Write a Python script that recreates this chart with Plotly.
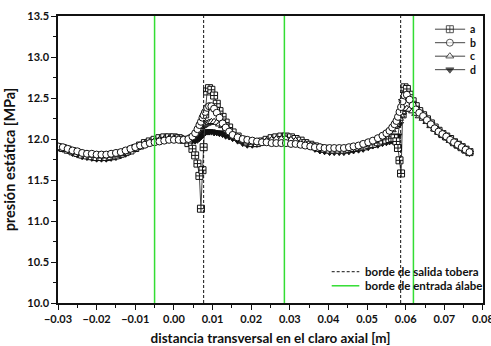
import plotly.graph_objects as go

# transverse position across the axial gap [m]
x_pos = [
    -0.030, -0.02875, -0.0275, -0.02625, -0.025, -0.02375, -0.0225, -0.02125, -0.020, -0.01875,
    -0.0175, -0.01625, -0.015, -0.01375, -0.0125, -0.01125, -0.010, -0.00875, -0.0075, -0.00625,
    -0.005, -0.00375, -0.0025, -0.00125, 0.0, 0.00125, 0.0025, 0.00375,
    0.0048, 0.0055, 0.0061, 0.0066, 0.0070, 0.0074, 0.0077, 0.0081, 0.0086, 0.0091,
    0.0097, 0.0104, 0.0111, 0.0118, 0.0126, 0.0134, 0.0143,
    0.0152, 0.0165, 0.0178, 0.0190, 0.0203, 0.0215, 0.0228, 0.0240, 0.0253, 0.0265,
    0.0278, 0.0290, 0.0303, 0.0315, 0.0328, 0.0340, 0.0353, 0.0365, 0.0378, 0.0390,
    0.0403, 0.0415, 0.0428, 0.0440, 0.0453, 0.0465, 0.0478, 0.0490, 0.0503, 0.0515,
    0.0528, 0.0540,
    0.0550, 0.0558, 0.0565, 0.0571, 0.0576, 0.0580, 0.0584, 0.0588, 0.0592, 0.0597,
    0.0603, 0.0610, 0.0618, 0.0626, 0.0635,
    0.0645, 0.0655, 0.0665, 0.0675, 0.0685, 0.0695, 0.0705, 0.0715, 0.0725, 0.0735,
    0.0745, 0.0755, 0.0765,
]

# static pressure [MPa] for the four cases
p_a = [
    11.90, 11.89, 11.87, 11.85, 11.83, 11.81, 11.80, 11.79, 11.78, 11.78,
    11.78, 11.79, 11.80, 11.82, 11.84, 11.86, 11.89, 11.92, 11.95, 11.97,
    11.99, 12.01, 12.02, 12.02, 12.02, 12.01, 11.99, 11.95,
    11.88, 11.80, 11.70, 11.55, 11.15, 11.62, 11.90, 12.30, 12.58, 12.62,
    12.60, 12.53, 12.43, 12.34, 12.27, 12.20, 12.14,
    12.08, 12.03, 11.99, 11.96, 11.95, 11.95, 11.97, 11.99, 12.01, 12.02,
    12.03, 12.03, 12.02, 12.00, 11.98, 11.95, 11.93, 11.91, 11.89, 11.88,
    11.87, 11.87, 11.87, 11.87, 11.88, 11.89, 11.90, 11.91, 11.93, 11.94,
    11.96, 11.98,
    11.99, 12.00, 12.01, 12.01, 11.97, 11.89, 11.74, 11.58, 12.30, 12.63,
    12.61, 12.54, 12.46, 12.40, 12.34,
    12.29, 12.24, 12.19, 12.14, 12.10, 12.06, 12.03, 12.00, 11.96, 11.93,
    11.90, 11.87, 11.84,
]
p_b = [
    11.91, 11.90, 11.88, 11.86, 11.85, 11.83, 11.82, 11.82, 11.81, 11.81,
    11.81, 11.82, 11.83, 11.84, 11.86, 11.88, 11.90, 11.92, 11.93, 11.95,
    11.96, 11.97, 11.98, 11.99, 11.99, 11.99, 11.99, 12.00,
    12.03, 12.07, 12.12, 12.17, 12.21, 12.26, 12.29, 12.33, 12.38, 12.40,
    12.40, 12.37, 12.32, 12.26, 12.19, 12.14, 12.09,
    12.05, 12.02, 12.00, 11.99, 11.98, 11.97, 11.96, 11.96, 11.95, 11.95,
    11.95, 11.95, 11.94, 11.94, 11.93, 11.92, 11.91, 11.90, 11.90, 11.89,
    11.89, 11.89, 11.89, 11.89, 11.90, 11.91, 11.92, 11.94, 11.96, 11.98,
    12.01, 12.04,
    12.07, 12.10, 12.14, 12.18, 12.22, 12.27, 12.33, 12.39, 12.46, 12.53,
    12.54, 12.48, 12.41, 12.36, 12.32,
    12.28, 12.23, 12.18, 12.13, 12.09, 12.06, 12.03, 11.99, 11.96, 11.93,
    11.90, 11.87, 11.84,
]
p_c = [
    11.90, 11.89, 11.87, 11.85, 11.84, 11.82, 11.81, 11.80, 11.80, 11.79,
    11.80, 11.80, 11.81, 11.83, 11.85, 11.87, 11.89, 11.92, 11.94, 11.96,
    11.98, 11.99, 12.00, 12.01, 12.01, 12.01, 12.00, 12.01,
    12.03, 12.07, 12.10, 12.13, 12.15, 12.16, 12.17, 12.18, 12.19, 12.20,
    12.21, 12.21, 12.20, 12.18, 12.16, 12.12, 12.08,
    12.05, 12.01, 11.98, 11.96, 11.96, 11.96, 11.97, 11.98, 11.99, 12.00,
    12.00, 12.00, 11.99, 11.98, 11.96, 11.94, 11.92, 11.91, 11.90, 11.89,
    11.88, 11.88, 11.88, 11.88, 11.89, 11.90, 11.91, 11.93, 11.95, 11.97,
    12.00, 12.03,
    12.05, 12.08, 12.11, 12.15, 12.18, 12.21, 12.25, 12.29, 12.33, 12.36,
    12.37, 12.36, 12.34, 12.31, 12.28,
    12.25, 12.21, 12.16, 12.12, 12.08, 12.05, 12.02, 11.98, 11.95, 11.92,
    11.89, 11.86, 11.84,
]
p_d = [
    11.90, 11.88, 11.86, 11.83, 11.81, 11.79, 11.78, 11.77, 11.76, 11.76,
    11.76, 11.77, 11.78, 11.80, 11.82, 11.85, 11.88, 11.91, 11.94, 11.97,
    11.99, 12.01, 12.02, 12.03, 12.03, 12.02, 12.01, 11.99,
    11.98, 11.98, 11.99, 12.01, 12.03, 12.05, 12.07, 12.08, 12.09, 12.09,
    12.09, 12.08, 12.08, 12.07, 12.06, 12.04, 12.03,
    12.01, 11.98, 11.95, 11.93, 11.93, 11.94, 11.96, 11.98, 12.00, 12.01,
    12.02, 12.02, 12.01, 11.99, 11.96, 11.93, 11.91, 11.88, 11.86, 11.85,
    11.84, 11.84, 11.84, 11.84, 11.85, 11.86, 11.87, 11.88, 11.90, 11.92,
    11.93, 11.95,
    11.96, 11.97, 11.98, 11.98, 11.99, 12.04, 12.18, 12.33, 12.46, 12.55,
    12.56, 12.50, 12.43, 12.38, 12.33,
    12.28, 12.23, 12.18, 12.13, 12.09, 12.05, 12.02, 11.98, 11.95, 11.92,
    11.89, 11.86, 11.83,
]

# edge locations [m]
nozzle_exit_edges = [0.0077, 0.0587]
blade_inlet_edges = [-0.005, 0.0286, 0.062]

series_names = ["a", "b", "c", "d"]
x_ticks = [-0.03, -0.02, -0.01, 0.00, 0.01, 0.02, 0.03, 0.04, 0.05, 0.06, 0.07, 0.08]
y_ticks = [10.0, 10.5, 11.0, 11.5, 12.0, 12.5, 13.0, 13.5]

INK = "#111111"
LINE = "#444444"
GREEN = "#33dd33"
FONT = dict(family="Lato", weight="bold", color=INK)

styles = {
    "a": dict(symbol="square-cross", color="white", size=7, line=dict(color=INK, width=1)),
    "b": dict(symbol="circle", color="white", size=7, line=dict(color=INK, width=1)),
    "c": dict(symbol="triangle-up", color="white", size=7, line=dict(color=INK, width=1)),
    "d": dict(symbol="triangle-down", color=INK, size=7, line=dict(color=INK, width=1)),
}
values = {"a": p_a, "b": p_b, "c": p_c, "d": p_d}

fig = go.Figure()

for name in ["d", "a", "c", "b"]:
    fig.add_trace(go.Scatter(
        x=x_pos, y=values[name], mode="lines+markers", name=name,
        line=dict(color=LINE, width=1), marker=styles[name], showlegend=False,
    ))

# edge markers spanning the full height
for xe in nozzle_exit_edges:
    fig.add_shape(type="line", xref="x", yref="paper", x0=xe, x1=xe, y0=0, y1=1,
                  line=dict(color=INK, width=1, dash="3px,2px"))
for xe in blade_inlet_edges:
    fig.add_shape(type="line", xref="x", yref="paper", x0=xe, x1=xe, y0=0, y1=1,
                  line=dict(color=GREEN, width=1.5))

# key for the four cases (drawn on a unit overlay axis)
key_rows = [0.954, 0.907, 0.860, 0.813]
for name, ky in zip(series_names, key_rows):
    fig.add_trace(go.Scatter(
        x=[0.887, 0.922, 0.958], y=[ky, ky, ky], mode="lines+markers",
        xaxis="x2", yaxis="y2", showlegend=False, hoverinfo="skip",
        line=dict(color=LINE, width=1),
        marker=dict(styles[name], size=[0, 7, 0]),
    ))
fig.add_annotation(xref="paper", yref="paper", x=0.965, y=(key_rows[0] + key_rows[-1]) / 2,
                   text="<br>".join(series_names), align="left",
                   showarrow=False, xanchor="left", yanchor="middle",
                   font=dict(FONT, size=10.5))

# key for the edge lines
fig.add_shape(type="line", xref="paper", yref="paper", x0=0.644, x1=0.709, y0=0.109, y1=0.109,
              line=dict(color=INK, width=1, dash="3px,2px"))
fig.add_shape(type="line", xref="paper", yref="paper", x0=0.644, x1=0.709, y0=0.060, y1=0.060,
              line=dict(color=GREEN, width=1.5))
fig.add_annotation(xref="paper", yref="paper", x=0.718, y=0.109, text="borde de salida tobera",
                   showarrow=False, xanchor="left", yanchor="middle", font=dict(FONT, size=11.5))
fig.add_annotation(xref="paper", yref="paper", x=0.718, y=0.060, text="borde de entrada álabe",
                   showarrow=False, xanchor="left", yanchor="middle", font=dict(FONT, size=11.5))

axis_common = dict(
    showgrid=False, zeroline=False, showline=True, mirror=True, automargin=False,
    linecolor=INK, linewidth=1.5, ticks="outside", ticklen=5, tickwidth=1,
    tickcolor=INK, tickfont=dict(FONT, size=11),
)

fig.update_layout(
    width=491, height=346,
    margin=dict(l=58, r=8, t=16, b=43),
    paper_bgcolor="white", plot_bgcolor="white",
    font=FONT,
    xaxis=dict(
        axis_common, range=[-0.03, 0.08001], tickvals=x_ticks, tickformat=".2f",
        ticklabeloverflow="allow",
        minor=dict(ticks="outside", ticklen=3, dtick=0.005, tick0=0, tickcolor=INK),
        title=dict(text="distancia transversal en el claro axial [m]",
                   font=dict(FONT, size=13.5), standoff=10),
    ),
    yaxis=dict(
        axis_common, range=[10.0, 13.5], tickvals=y_ticks, tickformat=".1f",
        minor=dict(ticks="outside", ticklen=3, dtick=0.25, tick0=10, tickcolor=INK),
        title=dict(text="presión estática [MPa]", font=dict(FONT, size=14.5), standoff=8),
    ),
    xaxis2=dict(overlaying="x", range=[0, 1], visible=False, anchor="y2"),
    yaxis2=dict(overlaying="y", range=[0, 1], visible=False, anchor="x2"),
)

fig.write_html("out.html")
